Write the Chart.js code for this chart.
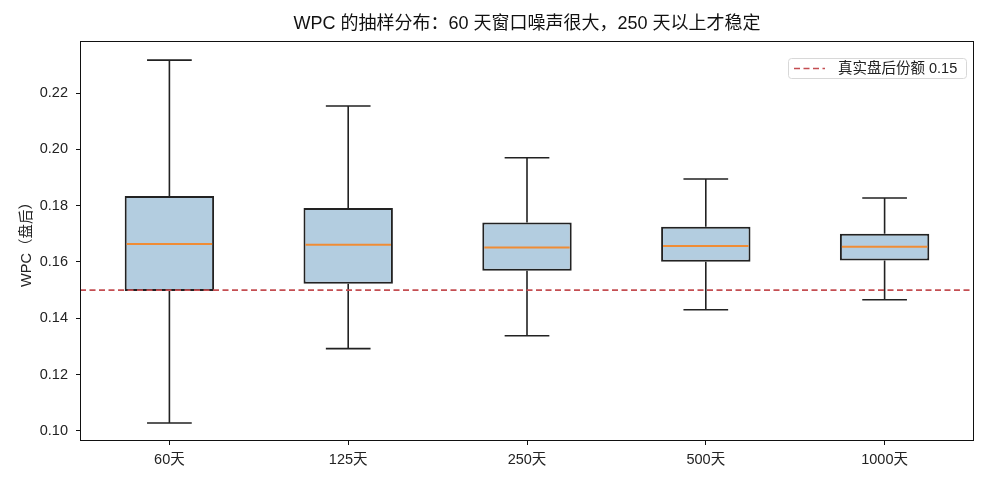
<!DOCTYPE html>
<html>
<head>
<meta charset="utf-8">
<script src="https://cdn.jsdelivr.net/npm/chart.js@4.4.1/dist/chart.umd.min.js"></script>
<style>
  html, body { margin: 0; padding: 0; background: #fff; }
  #wrap { width: 990px; height: 484px; }
</style>
</head>
<body>
<div id="wrap"><canvas id="boxChart"></canvas></div>
<script>
const labels = ['60天', '125天', '250天', '500天', '1000天'];
const whiskerLow = [0.1028, 0.1292, 0.1338, 0.1430, 0.1466];
const q1 = [0.1497, 0.1523, 0.1569, 0.1601, 0.1605];
const medians = [0.1664, 0.1661, 0.1651, 0.1657, 0.1654];
const q3 = [0.1834, 0.1792, 0.1740, 0.1725, 0.1700];
const whiskerHigh = [0.2317, 0.2154, 0.1970, 0.1895, 0.1827];
const refValue = 0.15;
const refLabel = '真实盘后份额 0.15';
const yTicks = [0.10, 0.12, 0.14, 0.16, 0.18, 0.20, 0.22];

const FONT = '"Liberation Sans", "Noto Sans CJK SC", sans-serif';
Chart.defaults.font.family = FONT;
Chart.defaults.color = '#222';

const boxData = labels.map((l, i) => [q1[i], q3[i]]);

// whiskers, medians, reference line, frame and legend
const boxExtras = {
  id: 'boxExtras',
  afterDatasetsDraw(chart) {
    const ctx = chart.ctx;
    const x = chart.scales.x, y = chart.scales.y;
    const area = chart.chartArea;
    const unit = x.getPixelForValue(1) - x.getPixelForValue(0);
    const halfBox = unit * 0.25, halfCap = unit * 0.125;
    ctx.save();
    ctx.lineWidth = 1.6;
    ctx.strokeStyle = '#222';
    labels.forEach((l, i) => {
      const cx = x.getPixelForValue(i);
      ctx.beginPath();
      ctx.moveTo(cx, y.getPixelForValue(q3[i]));
      ctx.lineTo(cx, y.getPixelForValue(whiskerHigh[i]));
      ctx.moveTo(cx, y.getPixelForValue(q1[i]));
      ctx.lineTo(cx, y.getPixelForValue(whiskerLow[i]));
      ctx.moveTo(cx - halfCap, y.getPixelForValue(whiskerHigh[i]));
      ctx.lineTo(cx + halfCap, y.getPixelForValue(whiskerHigh[i]));
      ctx.moveTo(cx - halfCap, y.getPixelForValue(whiskerLow[i]));
      ctx.lineTo(cx + halfCap, y.getPixelForValue(whiskerLow[i]));
      ctx.stroke();
    });
    ctx.strokeStyle = '#f08c35';
    ctx.lineWidth = 2;
    labels.forEach((l, i) => {
      const cx = x.getPixelForValue(i);
      const my = y.getPixelForValue(medians[i]);
      ctx.beginPath();
      ctx.moveTo(cx - halfBox + 2, my);
      ctx.lineTo(cx + halfBox - 2, my);
      ctx.stroke();
    });
    // reference line
    const ry = y.getPixelForValue(refValue);
    ctx.strokeStyle = '#c44e52';
    ctx.lineWidth = 1.6;
    ctx.setLineDash([6, 3.5]);
    ctx.beginPath();
    ctx.moveTo(area.left, ry);
    ctx.lineTo(area.right, ry);
    ctx.stroke();
    ctx.setLineDash([]);
    // frame
    ctx.strokeStyle = '#111';
    ctx.lineWidth = 1;
    ctx.strokeRect(area.left + 0.5, area.top + 0.5, area.right - area.left - 1, area.bottom - area.top - 1);
    // legend
    const lx = area.right - 186, ly = area.top + 17, lw = 178, lh = 20;
    ctx.fillStyle = 'rgba(255,255,255,0.85)';
    ctx.strokeStyle = '#d8d8d8';
    ctx.beginPath();
    ctx.roundRect(lx + 0.5, ly + 0.5, lw, lh, 3);
    ctx.fill();
    ctx.stroke();
    ctx.strokeStyle = '#c44e52';
    ctx.lineWidth = 1.6;
    ctx.setLineDash([6, 3.5]);
    ctx.beginPath();
    ctx.moveTo(lx + 6, ly + 10.5);
    ctx.lineTo(lx + 37, ly + 10.5);
    ctx.stroke();
    ctx.setLineDash([]);
    ctx.fillStyle = '#222';
    ctx.font = '14.5px ' + FONT;
    ctx.textBaseline = 'middle';
    ctx.fillText(refLabel, lx + 50, ly + 11);
    ctx.restore();
  }
};

new Chart(document.getElementById('boxChart'), {
  type: 'bar',
  data: {
    labels: labels,
    datasets: [{
      label: 'IQR',
      data: boxData,
      backgroundColor: '#b3cde0',
      borderColor: '#222',
      borderWidth: 2,
      borderSkipped: false,
      barPercentage: 0.5,
      categoryPercentage: 1.0
    }]
  },
  options: {
    responsive: true,
    maintainAspectRatio: false,
    animation: false,
    layout: { padding: { left: 18, right: 16, top: 0, bottom: 0 } },
    plugins: {
      legend: { display: false },
      tooltip: { enabled: false },
      title: {
        display: true,
        fullSize: false,
        text: 'WPC 的抽样分布：60 天窗口噪声很大，250 天以上才稳定',
        font: { size: 18, weight: 'normal', lineHeight: 1.2 },
        color: '#111',
        padding: { top: 13, bottom: 6.4 }
      }
    },
    scales: {
      x: {
        grid: { display: true, drawOnChartArea: false, offset: false, tickLength: 4, color: '#111' },
        border: { display: false },
        ticks: { font: { size: 14.5 }, padding: 6, color: '#222' },
        afterFit(scale) { scale.height = 43; }
      },
      y: {
        min: 0.0964,
        max: 0.2385,
        grid: { display: true, drawOnChartArea: false, tickLength: 4, color: '#111' },
        border: { display: false },
        title: { display: true, text: 'WPC（盘后）', font: { size: 14.5 }, color: '#222', padding: { top: 0, bottom: 4 } },
        ticks: {
          font: { size: 14.5 },
          padding: 8,
          color: '#222',
          callback: v => v.toFixed(2)
        },
        afterBuildTicks(scale) {
          scale.ticks = yTicks.map(v => ({ value: v }));
        },
        afterFit(scale) { scale.width = 62; }
      }
    }
  },
  plugins: [boxExtras]
});
</script>
</body>
</html>
